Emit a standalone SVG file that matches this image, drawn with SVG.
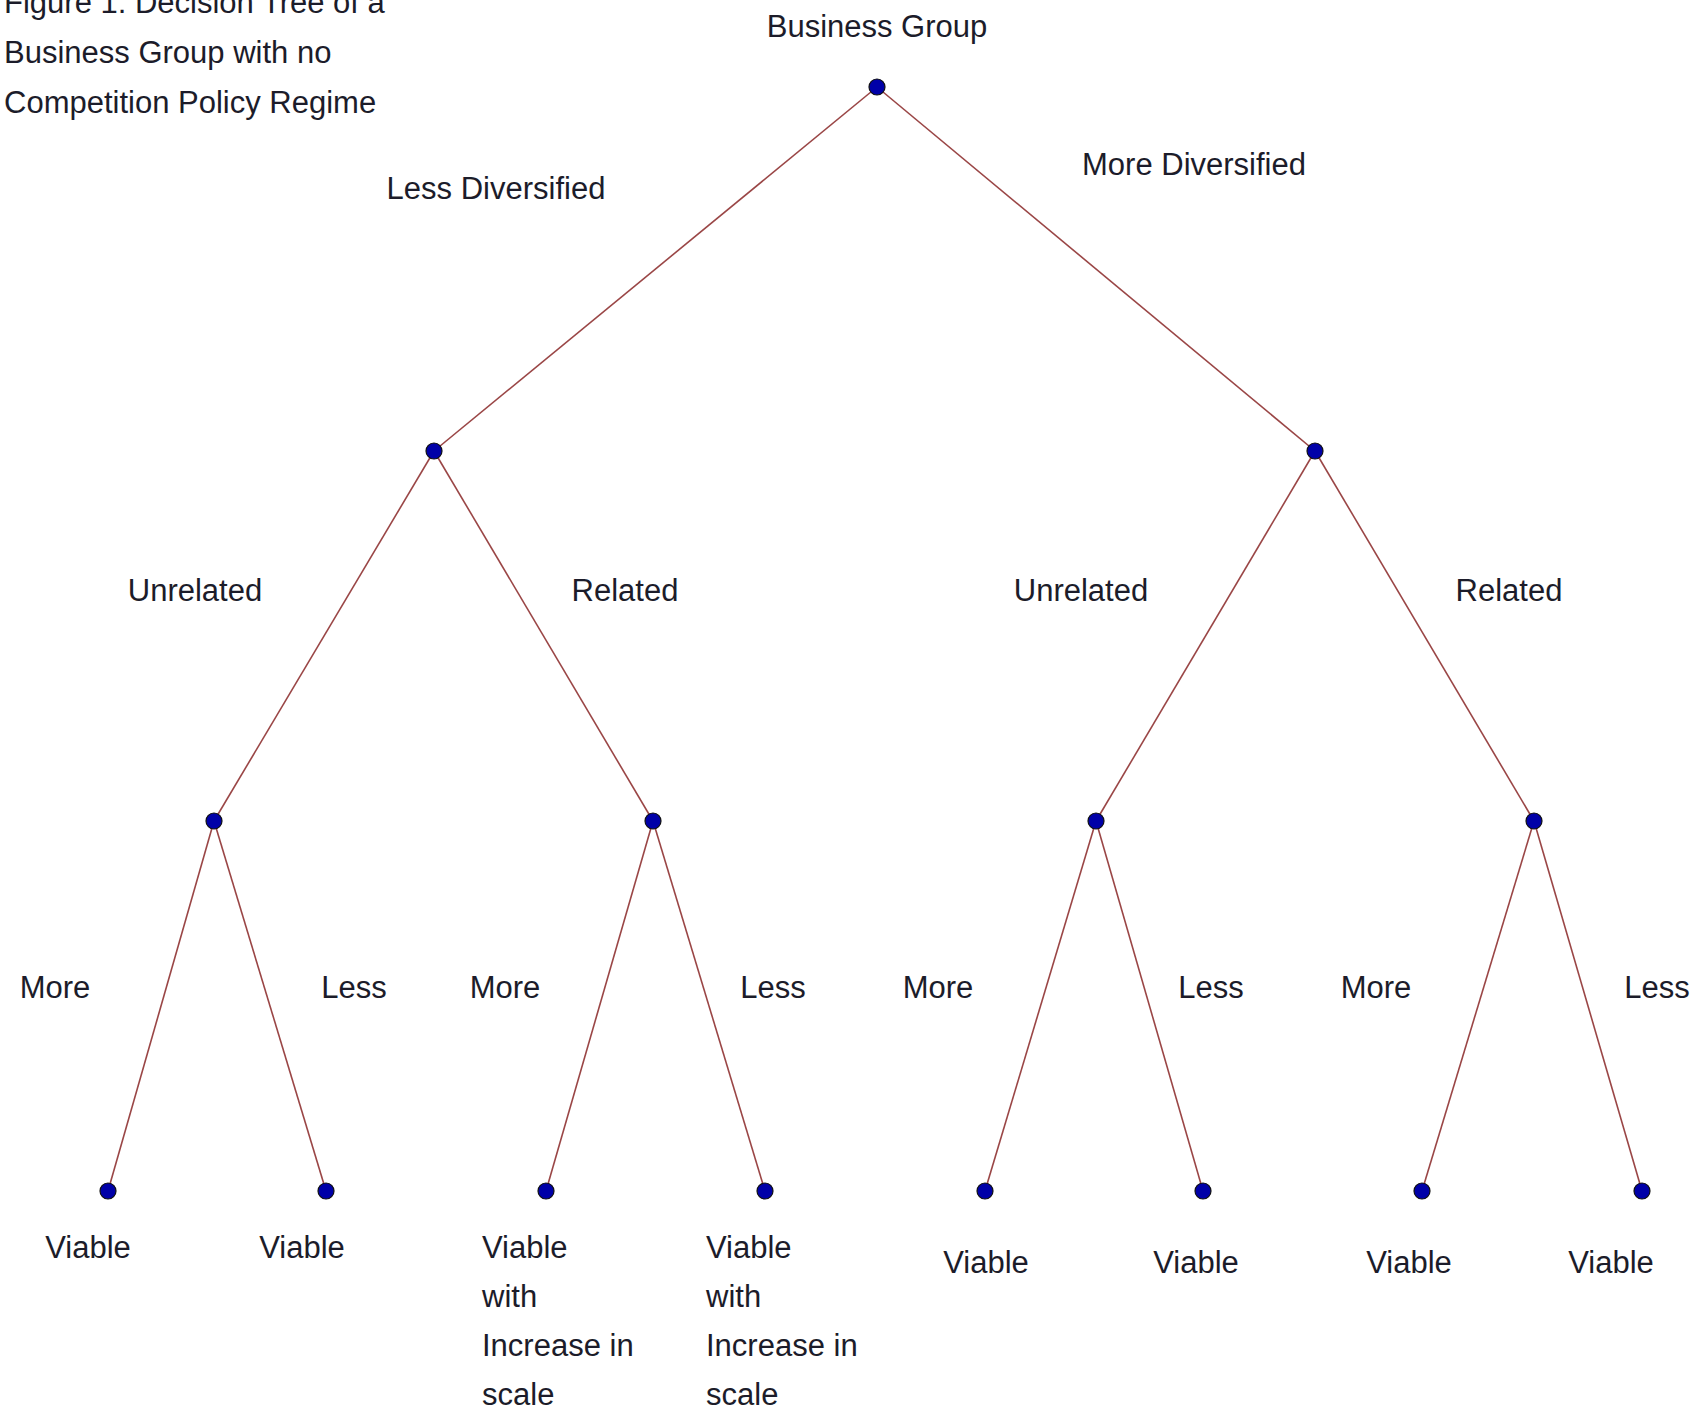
<svg xmlns="http://www.w3.org/2000/svg" width="1704" height="1405" viewBox="0 0 1704 1405">
<style>
text{font-family:"Liberation Sans",Arial,sans-serif;font-size:31px;fill:#1c1c2a}
.m{text-anchor:middle}
.e{stroke:#9a4646;stroke-width:1.6;fill:none}
.n{fill:#0000a8;stroke:#111;stroke-width:1.2}
</style>
<rect width="1704" height="1405" fill="#fff"/>
<g id="title">
<text x="4" y="13">Figure 1: Decision Tree of a</text>
<text x="4" y="63">Business Group with no</text>
<text x="4" y="113">Competition Policy Regime</text>
</g>
<g id="connectors">
<line class="e" x1="877" y1="87" x2="434" y2="451"/>
<line class="e" x1="877" y1="87" x2="1315" y2="451"/>
<line class="e" x1="434" y1="451" x2="214" y2="821"/>
<line class="e" x1="434" y1="451" x2="653" y2="821"/>
<line class="e" x1="1315" y1="451" x2="1096" y2="821"/>
<line class="e" x1="1315" y1="451" x2="1534" y2="821"/>
<line class="e" x1="214" y1="821" x2="108" y2="1191"/>
<line class="e" x1="214" y1="821" x2="326" y2="1191"/>
<line class="e" x1="653" y1="821" x2="546" y2="1191"/>
<line class="e" x1="653" y1="821" x2="765" y2="1191"/>
<line class="e" x1="1096" y1="821" x2="985" y2="1191"/>
<line class="e" x1="1096" y1="821" x2="1203" y2="1191"/>
<line class="e" x1="1534" y1="821" x2="1422" y2="1191"/>
<line class="e" x1="1534" y1="821" x2="1642" y2="1191"/>
</g>
<g id="edge-labels">
<text class="m" x="496" y="199">Less Diversified</text>
<text class="m" x="1194" y="175">More Diversified</text>
<text class="m" x="195" y="601">Unrelated</text>
<text class="m" x="625" y="601">Related</text>
<text class="m" x="1081" y="601">Unrelated</text>
<text class="m" x="1509" y="601">Related</text>
<text class="m" x="55" y="998">More</text>
<text class="m" x="354" y="998">Less</text>
<text class="m" x="505" y="998">More</text>
<text class="m" x="773" y="998">Less</text>
<text class="m" x="938" y="998">More</text>
<text class="m" x="1211" y="998">Less</text>
<text class="m" x="1376" y="998">More</text>
<text class="m" x="1657" y="998">Less</text>
</g>
<g id="root"><circle class="n" cx="877" cy="87" r="8"/><text class="m" x="877" y="37">Business Group</text></g>
<g id="n-less"><circle class="n" cx="434" cy="451" r="8"/></g>
<g id="n-more"><circle class="n" cx="1315" cy="451" r="8"/></g>
<g id="n-less-unrel"><circle class="n" cx="214" cy="821" r="8"/></g>
<g id="n-less-rel"><circle class="n" cx="653" cy="821" r="8"/></g>
<g id="n-more-unrel"><circle class="n" cx="1096" cy="821" r="8"/></g>
<g id="n-more-rel"><circle class="n" cx="1534" cy="821" r="8"/></g>
<g id="leaf1"><circle class="n" cx="108" cy="1191" r="8"/><text class="m" x="88" y="1258">Viable</text></g>
<g id="leaf2"><circle class="n" cx="326" cy="1191" r="8"/><text class="m" x="302" y="1258">Viable</text></g>
<g id="leaf3"><circle class="n" cx="546" cy="1191" r="8"/><text x="482" y="1258">Viable</text><text x="482" y="1307">with</text><text x="482" y="1356">Increase in</text><text x="482" y="1405">scale</text></g>
<g id="leaf4"><circle class="n" cx="765" cy="1191" r="8"/><text x="706" y="1258">Viable</text><text x="706" y="1307">with</text><text x="706" y="1356">Increase in</text><text x="706" y="1405">scale</text></g>
<g id="leaf5"><circle class="n" cx="985" cy="1191" r="8"/><text class="m" x="986" y="1273">Viable</text></g>
<g id="leaf6"><circle class="n" cx="1203" cy="1191" r="8"/><text class="m" x="1196" y="1273">Viable</text></g>
<g id="leaf7"><circle class="n" cx="1422" cy="1191" r="8"/><text class="m" x="1409" y="1273">Viable</text></g>
<g id="leaf8"><circle class="n" cx="1642" cy="1191" r="8"/><text class="m" x="1611" y="1273">Viable</text></g>
</svg>
